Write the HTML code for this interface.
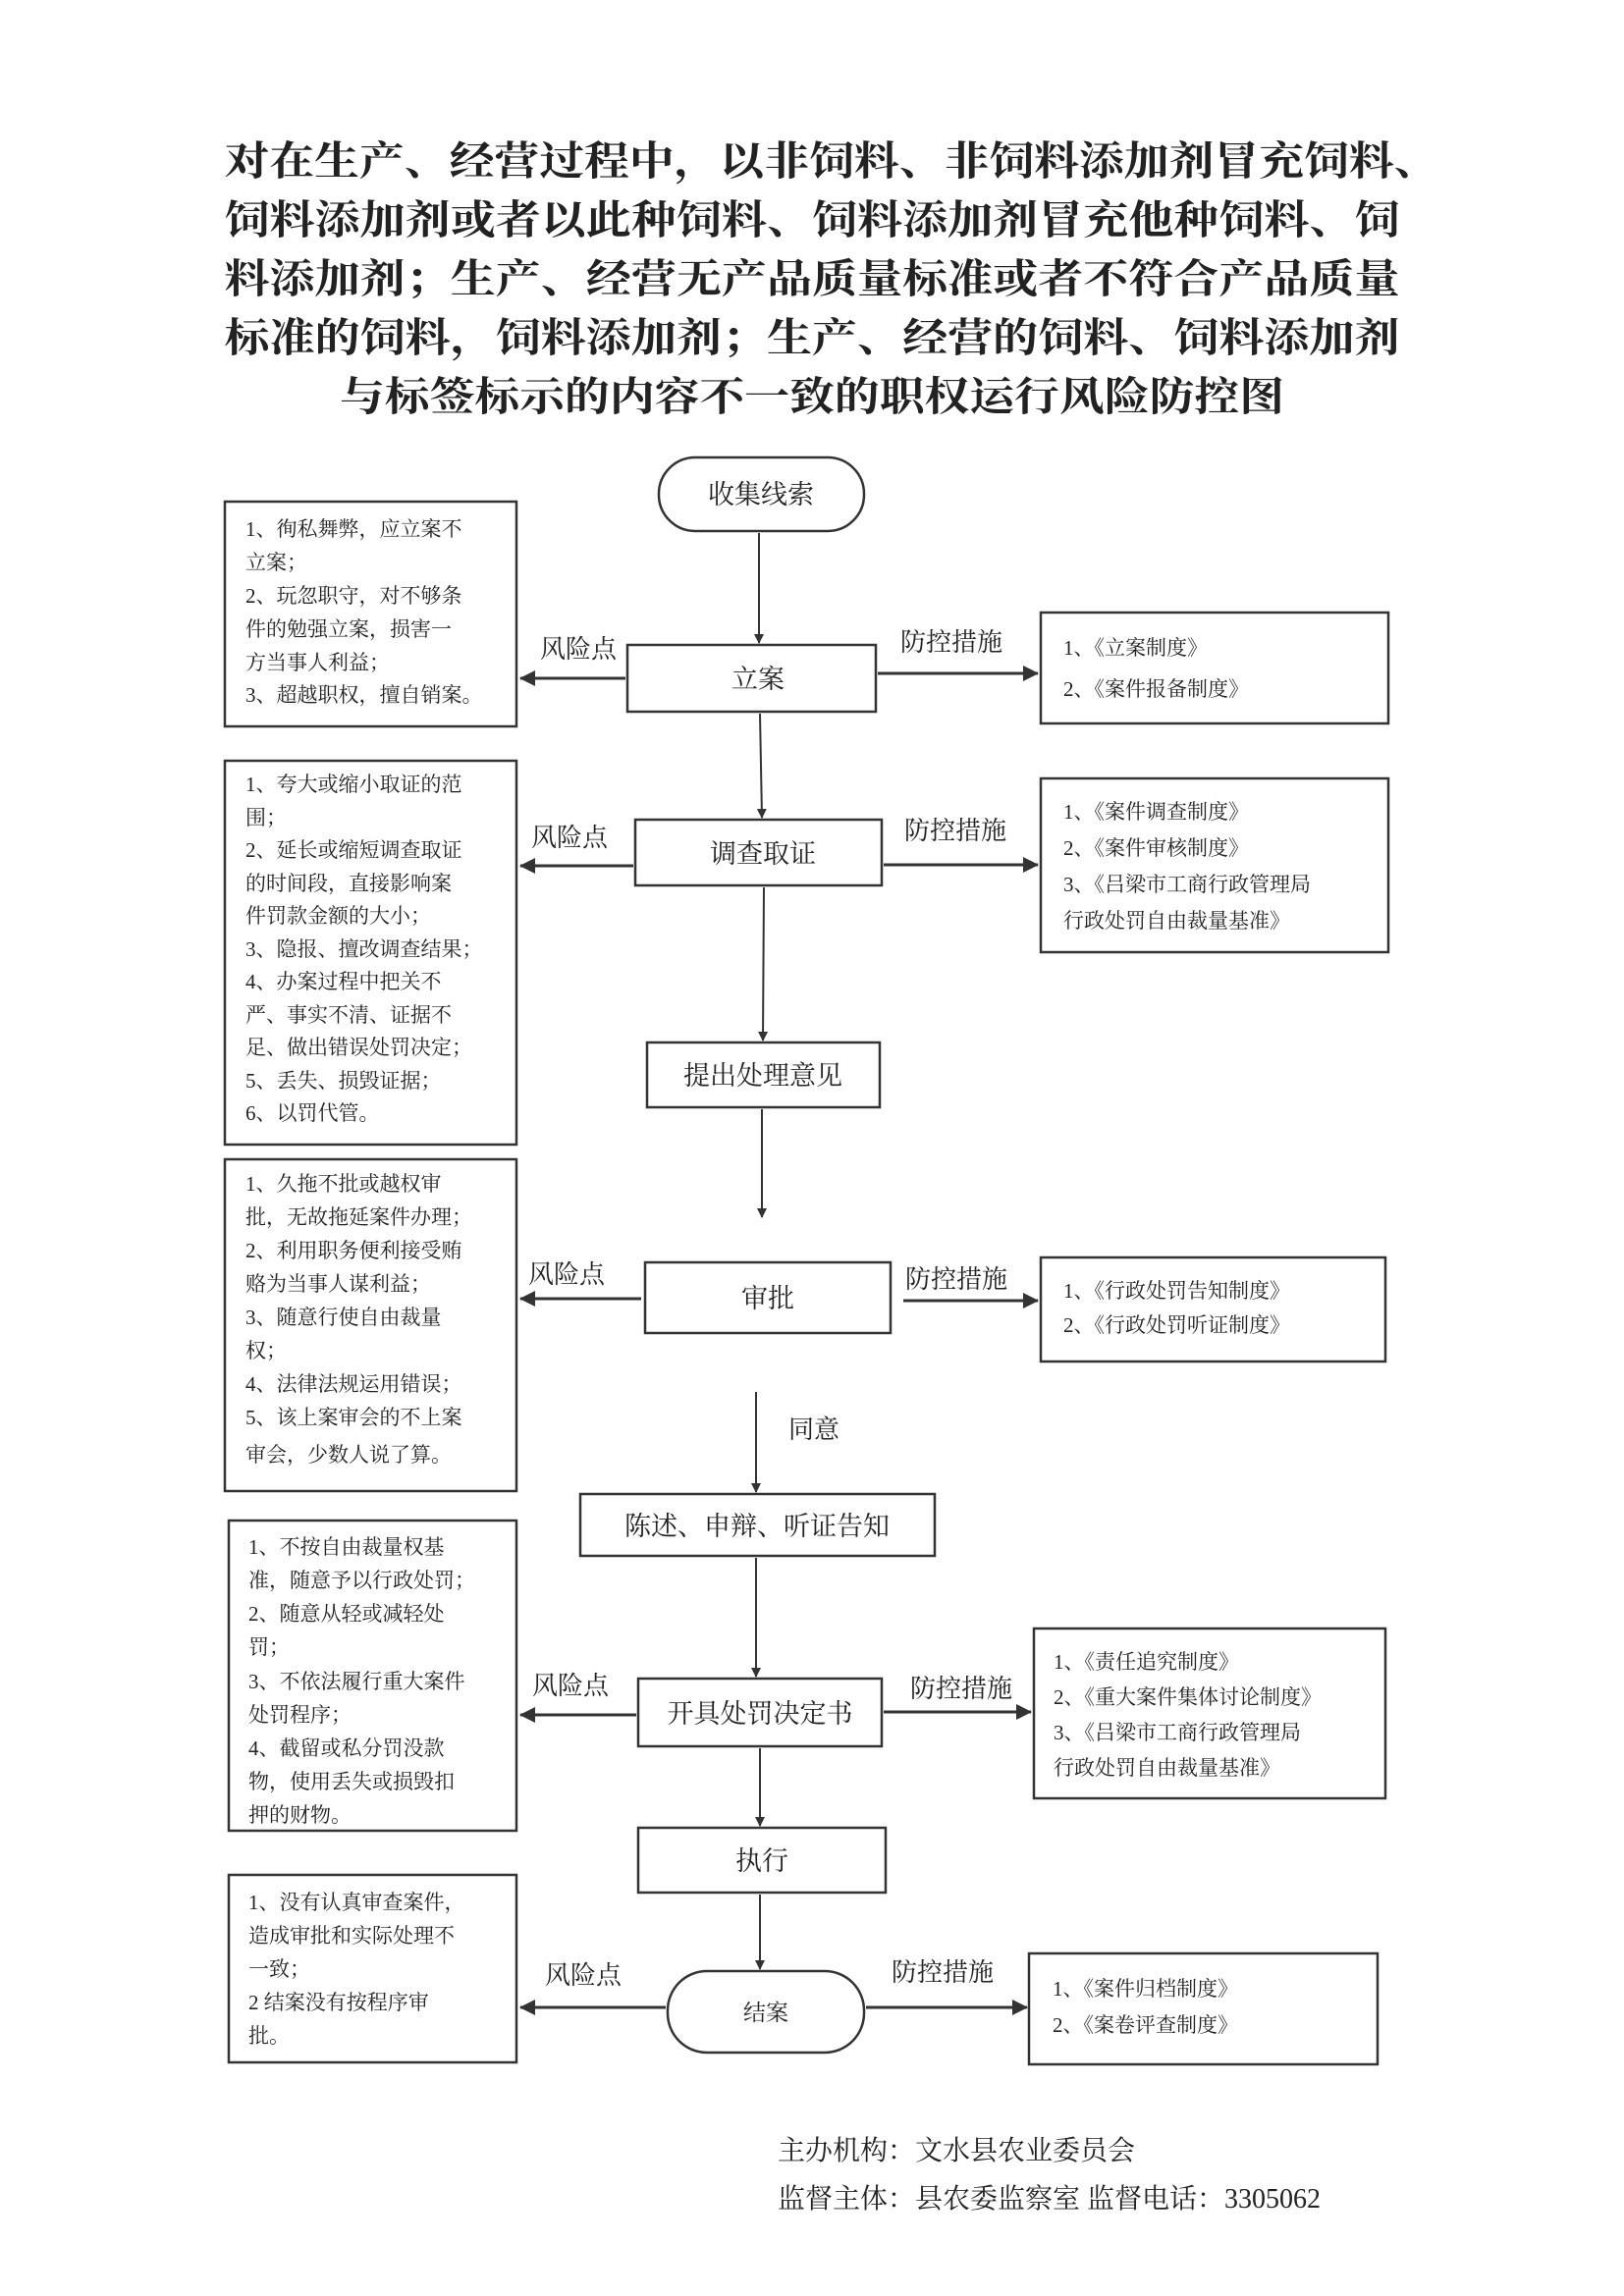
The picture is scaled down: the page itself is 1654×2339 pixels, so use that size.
<!DOCTYPE html>
<html><head><meta charset="utf-8"><style>
html,body{margin:0;padding:0;background:#fff;}
svg{display:block;}
text{font-family:"Liberation Serif","Noto Serif CJK SC","Noto Sans CJK SC",serif;fill:#222;}
.t{font-size:41px;font-weight:bold;fill:#000;}
.b{font-size:21px;}
.n{font-size:27px;}
.l{font-size:26px;}
</style></head><body>
<svg width="1654" height="2339" viewBox="0 0 1654 2339" xmlns="http://www.w3.org/2000/svg">
<defs><marker id="a" markerWidth="10" markerHeight="10" refX="9" refY="5" orient="auto" markerUnits="userSpaceOnUse"><path d="M0,0 L10,5 L0,10 Z" fill="#333"/></marker>
<marker id="h" markerWidth="16" markerHeight="16" refX="15" refY="8" orient="auto" markerUnits="userSpaceOnUse"><path d="M0,0 L16,8 L0,16 Z" fill="#333"/></marker></defs>
<g text-anchor="middle" class="t">
<text x="847" y="178" textLength="1237" lengthAdjust="spacingAndGlyphs">对在生产、经营过程中，以非饲料、非饲料添加剂冒充饲料、</text>
<text x="827" y="238" textLength="1197" lengthAdjust="spacingAndGlyphs">饲料添加剂或者以此种饲料、饲料添加剂冒充他种饲料、饲</text>
<text x="827" y="298" textLength="1197" lengthAdjust="spacingAndGlyphs">料添加剂；生产、经营无产品质量标准或者不符合产品质量</text>
<text x="827" y="358" textLength="1197" lengthAdjust="spacingAndGlyphs">标准的饲料，饲料添加剂；生产、经营的饲料、饲料添加剂</text>
<text x="827" y="418" textLength="962" lengthAdjust="spacingAndGlyphs">与标签标示的内容不一致的职权运行风险防控图</text>
</g>
<g fill="none" stroke="#333" stroke-width="2.5">
<rect x="671" y="466" width="209" height="75" rx="37"/>
<rect x="229" y="511" width="297" height="229"/>
<rect x="639" y="657" width="253" height="68"/>
<rect x="1060" y="624" width="354" height="113"/>
<rect x="229" y="775" width="297" height="391"/>
<rect x="647" y="835" width="251" height="67"/>
<rect x="1060" y="793" width="354" height="177"/>
<rect x="659" y="1062" width="237" height="66"/>
<rect x="229" y="1181" width="297" height="338"/>
<rect x="657" y="1286" width="250" height="72"/>
<rect x="1060" y="1281" width="351" height="106"/>
<rect x="591" y="1522" width="361" height="63"/>
<rect x="233" y="1549" width="293" height="316"/>
<rect x="650" y="1710" width="248" height="69"/>
<rect x="1053" y="1659" width="358" height="173"/>
<rect x="650" y="1862" width="252" height="66"/>
<rect x="233" y="1910" width="293" height="191"/>
<rect x="680" y="2008" width="200" height="83" rx="40"/>
<rect x="1048" y="1990" width="355" height="113"/>
</g>
<g stroke="#333" stroke-width="2" fill="none">
<line x1="773" y1="543" x2="773" y2="655" marker-end="url(#a)"/>
<line x1="774" y1="727" x2="776" y2="833" marker-end="url(#a)"/>
<line x1="778" y1="904" x2="777" y2="1060" marker-end="url(#a)"/>
<line x1="776" y1="1130" x2="776" y2="1240" marker-end="url(#a)"/>
<line x1="770" y1="1418" x2="770" y2="1520" marker-end="url(#a)"/>
<line x1="770" y1="1587" x2="770" y2="1708" marker-end="url(#a)"/>
<line x1="774" y1="1781" x2="774" y2="1860" marker-end="url(#a)"/>
<line x1="774" y1="1930" x2="774" y2="2006" marker-end="url(#a)"/>
</g>
<g stroke="#333" stroke-width="3" fill="none">
<line x1="637" y1="691" x2="530" y2="691" marker-end="url(#h)"/>
<line x1="894" y1="686" x2="1057" y2="686" marker-end="url(#h)"/>
<line x1="645" y1="882" x2="530" y2="882" marker-end="url(#h)"/>
<line x1="900" y1="881" x2="1057" y2="881" marker-end="url(#h)"/>
<line x1="653" y1="1323" x2="530" y2="1323" marker-end="url(#h)"/>
<line x1="920" y1="1325" x2="1057" y2="1325" marker-end="url(#h)"/>
<line x1="648" y1="1747" x2="530" y2="1747" marker-end="url(#h)"/>
<line x1="900" y1="1744" x2="1050" y2="1744" marker-end="url(#h)"/>
<line x1="678" y1="2045" x2="530" y2="2045" marker-end="url(#h)"/>
<line x1="882" y1="2045" x2="1046" y2="2045" marker-end="url(#h)"/>
</g>
<g class="n" text-anchor="middle">
<text x="775" y="513">收集线索</text>
<text x="772" y="701">立案</text>
<text x="777" y="879">调查取证</text>
<text x="777" y="1105">提出处理意见</text>
<text x="782" y="1332">审批</text>
<text x="771" y="1564">陈述、申辩、听证告知</text>
<text x="774" y="1755">开具处罚决定书</text>
<text x="776" y="1905">执行</text>
<text x="780" y="2058" style="font-size:23px">结案</text>
</g>
<g class="l">
<text x="550" y="670">风险点</text><text x="917" y="663">防控措施</text>
<text x="541" y="862">风险点</text><text x="921" y="855">防控措施</text>
<text x="538" y="1307">风险点</text><text x="922" y="1312">防控措施</text>
<text x="803" y="1465">同意</text>
<text x="542" y="1726">风险点</text><text x="927" y="1729">防控措施</text>
<text x="555" y="2021">风险点</text><text x="908" y="2018">防控措施</text>
</g>
<g class="b">
<text x="250" y="546">1、徇私舞弊，应立案不</text>
<text x="250" y="580">立案；</text>
<text x="250" y="614">2、玩忽职守，对不够条</text>
<text x="250" y="648">件的勉强立案，损害一</text>
<text x="250" y="682">方当事人利益；</text>
<text x="250" y="715">3、超越职权，擅自销案。</text>

<text x="250" y="806">1、夸大或缩小取证的范</text>
<text x="250" y="840">围；</text>
<text x="250" y="873">2、延长或缩短调查取证</text>
<text x="250" y="907">的时间段，直接影响案</text>
<text x="250" y="940">件罚款金额的大小；</text>
<text x="250" y="974">3、隐报、擅改调查结果；</text>
<text x="250" y="1007">4、办案过程中把关不</text>
<text x="250" y="1041">严、事实不清、证据不</text>
<text x="250" y="1074">足、做出错误处罚决定；</text>
<text x="250" y="1108">5、丢失、损毁证据；</text>
<text x="250" y="1141">6、以罚代管。</text>

<text x="250" y="1213">1、久拖不批或越权审</text>
<text x="250" y="1247">批，无故拖延案件办理；</text>
<text x="250" y="1281">2、利用职务便利接受贿</text>
<text x="250" y="1315">赂为当事人谋利益；</text>
<text x="250" y="1349">3、随意行使自由裁量</text>
<text x="250" y="1383">权；</text>
<text x="250" y="1417">4、法律法规运用错误；</text>
<text x="250" y="1451">5、该上案审会的不上案</text>
<text x="250" y="1489">审会，少数人说了算。</text>

<text x="253" y="1583">1、不按自由裁量权基</text>
<text x="253" y="1617">准，随意予以行政处罚；</text>
<text x="253" y="1651">2、随意从轻或减轻处</text>
<text x="253" y="1685">罚；</text>
<text x="253" y="1720">3、不依法履行重大案件</text>
<text x="253" y="1754">处罚程序；</text>
<text x="253" y="1788">4、截留或私分罚没款</text>
<text x="253" y="1822">物，使用丢失或损毁扣</text>
<text x="253" y="1856">押的财物。</text>

<text x="253" y="1945">1、没有认真审查案件，</text>
<text x="253" y="1979">造成审批和实际处理不</text>
<text x="253" y="2013">一致；</text>
<text x="253" y="2047">2  结案没有按程序审</text>
<text x="253" y="2081">批。</text>

<text x="1083" y="667">1、《立案制度》</text>
<text x="1083" y="709">2、《案件报备制度》</text>
<text x="1083" y="834">1、《案件调查制度》</text>
<text x="1083" y="871">2、《案件审核制度》</text>
<text x="1083" y="908">3、《吕梁市工商行政管理局</text>
<text x="1083" y="945">行政处罚自由裁量基准》</text>
<text x="1083" y="1322">1、《行政处罚告知制度》</text>
<text x="1083" y="1357">2、《行政处罚听证制度》</text>
<text x="1073" y="1700">1、《责任追究制度》</text>
<text x="1073" y="1736">2、《重大案件集体讨论制度》</text>
<text x="1073" y="1772">3、《吕梁市工商行政管理局</text>
<text x="1073" y="1808">行政处罚自由裁量基准》</text>
<text x="1072" y="2033">1、《案件归档制度》</text>
<text x="1072" y="2070">2、《案卷评查制度》</text>
</g>
<g style="font-size:28px">
<text x="792" y="2200">主办机构：文水县农业委员会</text>
<text x="792" y="2249">监督主体：县农委监察室   监督电话：3305062</text>
</g>
</svg>
</body></html>
